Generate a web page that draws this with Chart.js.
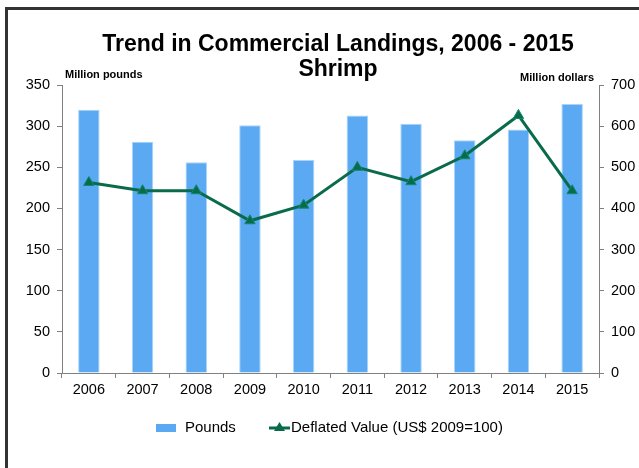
<!DOCTYPE html>
<html>
<head>
<meta charset="utf-8">
<script src="https://cdn.jsdelivr.net/npm/chart.js@4"></script>
<style>
  html, body { margin: 0; padding: 0; background: #fff; }
  #wrap { position: relative; width: 639px; height: 468px; }
  #frame { position: absolute; left: 5px; top: 7px; width: 640px; height: 458px;
           border-left: 3px solid #333; border-top: 3px solid #333; border-bottom: 1px solid #ccc;
           pointer-events: none; }
</style>
</head>
<body>
<div id="wrap">
  <canvas id="landingsChart" width="639" height="468"></canvas>
  <div id="frame"></div>
</div>
<script>
// Data
const years = ['2006', '2007', '2008', '2009', '2010', '2011', '2012', '2013', '2014', '2015'];
const pounds = [320, 281, 256, 301, 259, 313, 303, 283, 296, 327];
const deflatedValue = [463, 443, 443, 370, 408, 500, 465, 528, 626, 443];
const leftTicks = [0, 50, 100, 150, 200, 250, 300, 350];
const rightTicks = [0, 100, 200, 300, 400, 500, 600, 700];

const FONT = 'Arial, "Liberation Sans", sans-serif';
const BAR_COLOR = '#5aa9f2';
const LINE_COLOR = '#0a6b4b';

// Title, axis unit labels and legend drawn on the canvas
const extrasPlugin = {
    id: 'extras',
    afterDraw(chart) {
        const ctx = chart.ctx;
        const area = chart.chartArea;
        ctx.save();
        ctx.fillStyle = '#000';
        ctx.textBaseline = 'middle';

        // Title
        ctx.font = 'bold 23px ' + FONT;
        ctx.textAlign = 'center';
        ctx.fillText('Trend in Commercial Landings, 2006 - 2015', 338, 45);
        ctx.fillText('Shrimp', 338, 70);

        // Axis unit labels
        ctx.font = 'bold 11px ' + FONT;
        ctx.textAlign = 'left';
        ctx.fillText('Million pounds', area.left + 3, 75);
        ctx.textAlign = 'right';
        ctx.fillText('Million dollars', area.right - 5, 78);

        // Legend
        const ly = 428;
        ctx.fillStyle = BAR_COLOR;
        ctx.fillRect(156, ly - 4, 20, 8);
        ctx.fillStyle = '#000';
        ctx.font = '15px ' + FONT;
        ctx.textAlign = 'left';
        ctx.fillText('Pounds', 185, ly);

        ctx.strokeStyle = LINE_COLOR;
        ctx.lineWidth = 3;
        ctx.beginPath();
        ctx.moveTo(269, ly);
        ctx.lineTo(290, ly);
        ctx.stroke();
        ctx.fillStyle = LINE_COLOR;
        ctx.beginPath();
        ctx.moveTo(279.5, ly - 6);
        ctx.lineTo(285, ly + 3);
        ctx.lineTo(274, ly + 3);
        ctx.closePath();
        ctx.fill();
        ctx.fillStyle = '#000';
        ctx.fillText('Deflated Value (US$ 2009=100)', 291, ly);
        ctx.restore();
    }
};

const ctx = document.getElementById('landingsChart').getContext('2d');
new Chart(ctx, {
    data: {
        labels: years,
        datasets: [
            {
                type: 'line',
                label: 'Deflated Value (US$ 2009=100)',
                data: deflatedValue,
                yAxisID: 'y2',
                borderColor: LINE_COLOR,
                borderWidth: 3,
                pointStyle: 'triangle',
                pointRadius: 6,
                pointBackgroundColor: LINE_COLOR,
                pointBorderColor: '#0e8a72',
                pointBorderWidth: 1,
                tension: 0,
                order: 0
            },
            {
                type: 'bar',
                label: 'Pounds',
                data: pounds,
                yAxisID: 'y',
                backgroundColor: BAR_COLOR,
                borderColor: '#a8d4f8',
                borderWidth: 1,
                categoryPercentage: 1,
                barPercentage: 0.4,
                order: 1
            }
        ]
    },
    options: {
        responsive: false,
        animation: false,
        layout: { padding: { top: 85, left: 0, right: 0, bottom: 65 } },
        plugins: {
            legend: { display: false },
            title: { display: false },
            tooltip: { enabled: false }
        },
        scales: {
            x: {
                offset: true,
                afterFit: s => { s.height = 30; },
                grid: { offset: true, drawOnChartArea: false, color: '#808080', tickLength: 5 },
                border: { color: '#808080', width: 1 },
                ticks: { color: '#000', font: { family: FONT, size: 14.5 }, padding: 3, maxRotation: 0 }
            },
            y: {
                position: 'left',
                min: 0,
                max: 350,
                afterFit: s => { s.width = 62; },
                afterBuildTicks: s => { s.ticks = leftTicks.map(v => ({ value: v })); },
                grid: { drawOnChartArea: false, color: '#808080', tickLength: 5 },
                border: { color: '#808080', width: 1 },
                ticks: { color: '#000', font: { family: FONT, size: 14.5 }, padding: 7 }
            },
            y2: {
                position: 'right',
                min: 0,
                max: 700,
                afterFit: s => { s.width = 40; },
                afterBuildTicks: s => { s.ticks = rightTicks.map(v => ({ value: v })); },
                grid: { drawOnChartArea: false, color: '#808080', tickLength: 5 },
                border: { color: '#808080', width: 1 },
                ticks: { color: '#000', font: { family: FONT, size: 14.5 }, padding: 7 }
            }
        }
    },
    plugins: [extrasPlugin]
});
</script>
</body>
</html>
